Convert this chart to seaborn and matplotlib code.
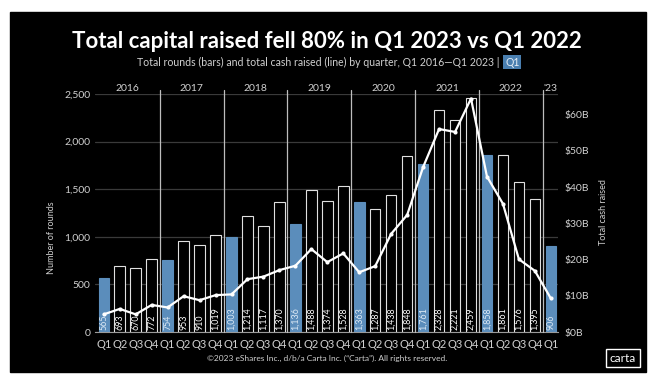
import matplotlib.pyplot as plt
import seaborn as sns
import pandas as pd
from matplotlib.patches import Rectangle

# Data
years = ["2016", "2017", "2018", "2019", "2020", "2021", "2022", "'23"]
quarters = ["Q1", "Q2", "Q3", "Q4"] * 7 + ["Q1"]
rounds = [565, 693, 670, 772,
          754, 953, 910, 1019,
          1003, 1214, 1117, 1370,
          1136, 1488, 1374, 1528,
          1363, 1287, 1438, 1848,
          1761, 2328, 2221, 2459,
          1858, 1861, 1576, 1395,
          906]
cash_b = [4.9, 6.4, 4.9, 7.5,
          6.8, 9.9, 8.8, 10.2,
          10.4, 14.6, 15.3, 17.1,
          18.3, 22.9, 19.3, 21.7,
          16.5, 18.2, 27.1, 32.3,
          45.5, 56.0, 55.2, 64.4,
          42.9, 35.4, 20.1, 16.9,
          9.3]

df = pd.DataFrame({"pos": range(len(rounds)), "quarter": quarters,
                   "rounds": rounds, "cash": cash_b})
df["is_q1"] = df["quarter"] == "Q1"

BLUE = "#5b8dbb"
TXT = "#d0d0d0"

sns.set_style("dark")
plt.rcParams['font.family'] = ['Lato', 'DejaVu Sans']

fig = plt.figure(figsize=(6.54, 3.8), dpi=100, facecolor="white")
# black card on white margin
fig.patches.append(Rectangle((10 / 654, 8 / 380), 636 / 654, 360 / 380,
                             transform=fig.transFigure, color="black", zorder=-10))

ax = fig.add_axes([0.145, 0.126, 0.708, 0.627])
ax.set_facecolor("black")

sns.barplot(data=df, x="pos", y="rounds", ax=ax, width=0.66,
            color="black", edgecolor="#e0e0e0", linewidth=0.8, zorder=3)
for patch, q1 in zip(ax.patches, df["is_q1"]):
    if q1:
        patch.set_facecolor(BLUE)
        patch.set_edgecolor(BLUE)

# value labels inside bars
for i, row in df.iterrows():
    ax.text(row.pos, 25, f"{row.rounds:,}", rotation=90, ha="center", va="bottom",
            fontsize=6.4, color="#dce9f5" if row.is_q1 else "white", zorder=4)

ax.set_xlim(-0.56, 28.44)
ax.set_ylim(0, 2500)
ax.set_yticks([0, 500, 1000, 1500, 2000, 2500])
ax.set_yticklabels(["0", "500", "1,000", "1,500", "2,000", "2,500"])
ax.grid(axis="y", color="#3a3a3a", linewidth=0.9, zorder=0)
ax.grid(axis="x", visible=False)
ax.set_xticks(df["pos"])
ax.set_xticklabels(quarters)
ax.tick_params(axis="x", colors=TXT, labelsize=8, length=0, pad=5)
ax.tick_params(axis="y", colors=TXT, labelsize=7.5, length=0, pad=3)
for s in ["top", "right", "left"]:
    ax.spines[s].set_visible(False)
ax.spines["bottom"].set_color("#9a9a9a")
ax.set_xlabel("")
ax.set_ylabel("")

# year dividers and labels
for k, yr in enumerate(years):
    start = k * 4
    if k > 0:
        ax.axvline(start - 0.5, ymin=0, ymax=1.017, color="#bdbdbd",
                   linewidth=0.9, clip_on=False, zorder=5)
    center = start + 1.5 if k < 7 else start
    ax.text(center, 2512, yr, ha="center", va="bottom", fontsize=7.5, color=TXT)

# cash line on right axis
ax2 = ax.twinx()
sns.lineplot(data=df, x="pos", y="cash", ax=ax2, color="white", linewidth=1.6,
             marker="o", markersize=3, markeredgewidth=0, zorder=6)
ax2.set_ylim(0, 65.7)
ax2.set_yticks(range(0, 70, 10))
ax2.set_yticklabels([f"${v}B" for v in range(0, 70, 10)])
ax2.tick_params(axis="y", colors=TXT, labelsize=7.5, length=0, pad=5)
ax2.grid(False)
for s in ax2.spines.values():
    s.set_visible(False)
ax2.set_xlabel("")
ax2.set_ylabel("")
ax2.set_xlim(-0.56, 28.44)

fig.text(52 / 654, 1 - 238 / 380, "Number of rounds", rotation=90, ha="center",
         va="center", fontsize=6.5, color=TXT)
fig.text(604 / 654, 1 - 212 / 380, "Total cash raised", rotation=90, ha="center",
         va="center", fontsize=6.5, color=TXT)

# titles
fig.text(0.5, 1 - 42 / 380, "Total capital raised fell 80% in Q1 2023 vs Q1 2022",
         ha="center", va="center", fontsize=16, fontweight="bold", color="white")
fig.text(499 / 654, 1 - 62 / 380,
         "Total rounds (bars) and total cash raised (line) by quarter, Q1 2016\u2014Q1 2023 |",
         ha="right", va="center", fontsize=7.6, color=TXT)
fig.text(505 / 654, 1 - 62 / 380, "Q1", ha="left", va="center", fontsize=7.6,
         color="#e6eef6",
         bbox=dict(boxstyle="square,pad=0.15", facecolor="#4a7fb0", edgecolor="none"))

fig.text(0.5, 1 - 358 / 380,
         "\u00a92023 eShares Inc., d/b/a Carta Inc. (\u201cCarta\u201d). All rights reserved.",
         ha="center", va="center", fontsize=6, color=TXT)
fig.text(623 / 654, 1 - 358 / 380, "carta", ha="center", va="center", fontsize=8.5,
         color="white",
         bbox=dict(boxstyle="square,pad=0.3", facecolor="black", edgecolor="white",
                   linewidth=1))

fig.savefig("out.png", dpi=100, facecolor="white")
